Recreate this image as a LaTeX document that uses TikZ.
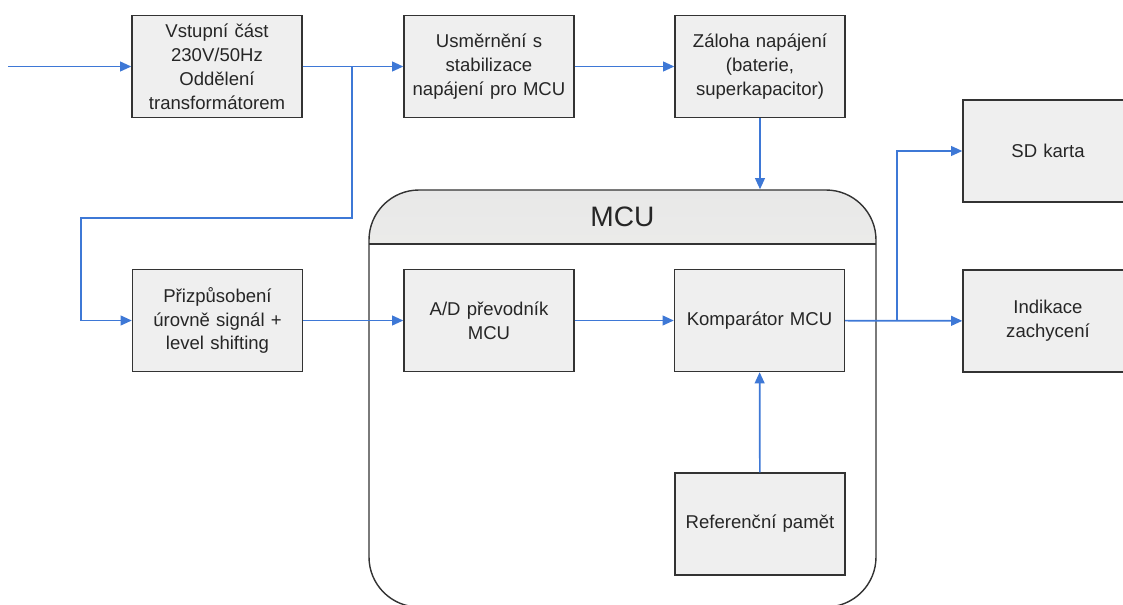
\documentclass[tikz,border=0pt]{standalone}
\usepackage{fontspec}
\setmainfont{Liberation Sans}
\usepackage{tikz}
\usetikzlibrary{shapes,arrows}
\usetikzlibrary{arrows.meta}
\definecolor{linkblue}{RGB}{62,120,214}
\definecolor{boxgray}{RGB}{239,239,239}
\tikzset{
	block/.style    = {draw=black!80, line width=1pt, rectangle, fill=boxgray,
		text width = 4.05cm, inner sep=0.1cm, align=center,
		minimum height = 2.55cm,
		font=\fontsize{13.2}{17}\selectfont},
	mcubox/.style   = {draw=black!80, line width=1pt, rectangle, inner sep=0pt,
		rounded corners=1.25cm,
		minimum width = 12.675cm,
		minimum height = 10.425cm,
		path picture={
			\shade[sharp corners, top color=black!9, bottom color=white!94!yellow]
				(path picture bounding box.north west) rectangle
				([yshift=-1.35cm]path picture bounding box.north east);
			\draw[sharp corners, line width=1pt, black!80]
				([yshift=-1.35cm]path picture bounding box.north west) --
				([yshift=-1.35cm]path picture bounding box.north east);}},
	title/.style    = {font=\fontsize{20}{24}\selectfont},
}
\begin{document}
\begin{tikzpicture}[ auto,
					x=0.25cm, y=-0.25cm,           %<--one unit is 10px of the page
					line width=1.2pt,              %<--setting line style
					text=black!85,
					>={Triangle[length=8pt,width=7pt]} ] %<--sets the arrowtype

	\useasboundingbox (0,0) rectangle (112.3,60.5);

	\draw%-----------------------------------------------------------------------------------------
	%Drawing the MCU Container:
	node(mcu) at (62.25,39.85) [mcubox] {}
	node(mcutitle) at (62.25,21.7) [title] {MCU}
	%Drawing Input:
	node[shape=coordinate][](input1) at (0.8,6.65){}
	%Drawing the Power Blocks:
	node(vstup) at (21.7,6.65) [block] {Vstupní část\\230V/50Hz\\Oddělení\\transformátorem}
	node(usmer) at (48.9,6.65) [block] {Usměrnění s\\stabilizace\\napájení pro MCU}
	node(zaloha) at (76.0,6.65) [block] {Záloha napájení\\(baterie,\\superkapacitor)}
	%Drawing the Signal Blocks:
	node(prizp) at (21.75,32.05) [block] {Přizpůsobení\\úrovně signál +\\level shifting}
	node(ad) at (48.9,32.05) [block] {A/D převodník\\MCU}
	node(komp) at (75.95,32.05) [block] {Komparátor MCU}
	node(refer) at (76.0,52.4) [block] {Referenční pamět}
	%Drawing the Output Blocks:
	node(sd) at (104.8,15.1) [block] {SD karta}
	node(indik) at (104.8,32.1) [block] {Indikace\\zachycení}
	%Drawing the Branch Nodes:
	node[shape=coordinate][](split1) at (35.2,6.65){}
	node[shape=coordinate][](bend1) at (35.2,21.8){}
	node[shape=coordinate][](bend2) at (8.1,21.8){}
	node[shape=coordinate][](split2) at (89.7,32.05){}
	;%---------------------------------------------------------------------------------------------

	%Joining the Blocks
	\draw[->,linkblue](input1) -- (vstup);
	\draw[->,linkblue](vstup) -- (usmer);
	\draw[->,linkblue](usmer) -- (zaloha);
	\draw[->,linkblue](zaloha.south) -- (zaloha.south |- mcu.north);

	\draw[->,linkblue](split1) -- (bend1) -- (bend2) |- (prizp);
	\draw[->,linkblue](prizp) -- (ad);
	\draw[->,linkblue](ad) -- (komp);
	\draw[->,linkblue](refer) -- (komp);

	\draw[->,linkblue](komp) -- (indik);
	\draw[->,linkblue](split2) |- (sd);

\end{tikzpicture}
\end{document}
